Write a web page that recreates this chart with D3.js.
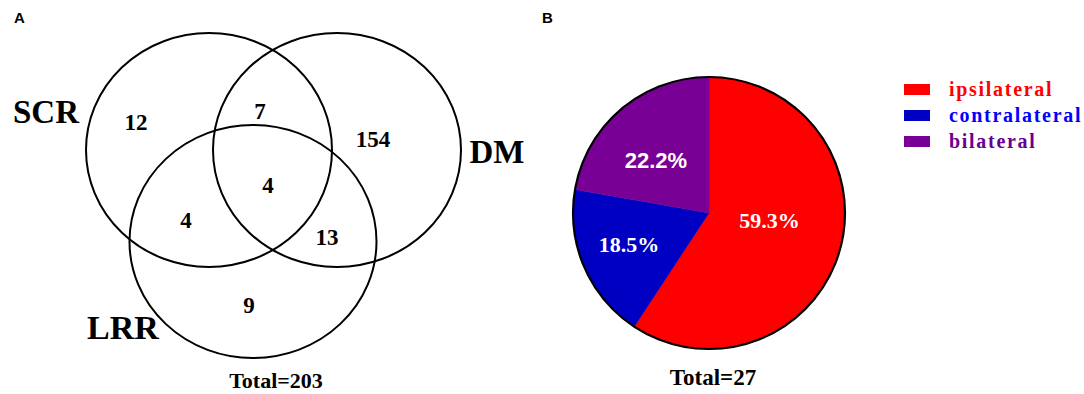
<!DOCTYPE html>
<html>
<head>
<meta charset="utf-8">
<script src="https://cdn.jsdelivr.net/npm/d3@7"></script>
<style>
  html, body { margin: 0; padding: 0; background: #fff; }
  svg { display: block; }
</style>
</head>
<body>
<svg id="chart" width="1084" height="394"></svg>
<script>
// ---------- DATA ----------
const vennSets = ["SCR", "DM", "LRR"];
const vennRegionKeys = ["SCR", "SCR&DM", "DM", "SCR&DM&LRR", "SCR&LRR", "DM&LRR", "LRR"];
const vennRegionCounts = [12, 7, 154, 4, 4, 13, 9];
const vennTotal = 203;

const pieCategories = ["ipsilateral", "contralateral", "bilateral"];
const pieCounts = [16, 5, 6];
const pieTotal = 27;
const pieColors = ["#ff0000", "#0000c2", "#780094"];
const legendTextColors = ["#ff0000", "#0000ff", "#6a008f"];

// ---------- LAYOUT ----------
const svg = d3.select("#chart");
const serif = "'Liberation Serif', 'Times New Roman', serif";
const sans = "'Liberation Sans', Arial, sans-serif";

// panel letters
svg.append("text").attr("x", 14).attr("y", 23).text("A")
  .attr("font-family", sans).attr("font-weight", "bold").attr("font-size", 15);
svg.append("text").attr("x", 542).attr("y", 23).text("B")
  .attr("font-family", sans).attr("font-weight", "bold").attr("font-size", 15);

// ----- Venn (panel A) -----
const vennGeom = {
  SCR: { cx: 209, cy: 150, rx: 123, ry: 117, lx: 46, ly: 123 },
  DM:  { cx: 337, cy: 150, rx: 124, ry: 117, lx: 497, ly: 163 },
  LRR: { cx: 253, cy: 241.5, rx: 123.5, ry: 116.5, lx: 123, ly: 339 }
};
const regionPos = {
  "SCR": [136, 130], "SCR&DM": [260, 119], "DM": [373, 147],
  "SCR&DM&LRR": [268, 193], "SCR&LRR": [186, 228], "DM&LRR": [327, 245], "LRR": [249, 313]
};

const gA = svg.append("g");
gA.selectAll("ellipse.set").data(vennSets).join("ellipse")
  .attr("class", "set")
  .attr("cx", d => vennGeom[d].cx).attr("cy", d => vennGeom[d].cy)
  .attr("rx", d => vennGeom[d].rx).attr("ry", d => vennGeom[d].ry)
  .attr("fill", "none").attr("stroke", "#000").attr("stroke-width", 2);

gA.selectAll("text.setlabel").data(vennSets).join("text")
  .attr("class", "setlabel")
  .attr("x", d => vennGeom[d].lx).attr("y", d => vennGeom[d].ly)
  .attr("text-anchor", "middle")
  .attr("font-family", serif).attr("font-weight", "bold")
  .attr("font-size", d => d === "LRR" ? 34 : 33)
  .text(d => d);

gA.selectAll("text.count").data(vennRegionKeys).join("text")
  .attr("class", "count")
  .attr("x", d => regionPos[d][0]).attr("y", d => regionPos[d][1])
  .attr("text-anchor", "middle")
  .attr("font-family", serif).attr("font-weight", "bold").attr("font-size", 23)
  .text((d, i) => vennRegionCounts[i]);

gA.append("text").attr("x", 276).attr("y", 388).attr("text-anchor", "middle")
  .attr("font-family", serif).attr("font-weight", "bold").attr("font-size", 22)
  .text("Total=" + vennTotal);

// ----- Pie (panel B) -----
const R = 136;
const cx = 709, cy = 213;
const pie = d3.pie().sort(null).value(d => d);
const arcs = pie(pieCounts);
const arc = d3.arc().innerRadius(0).outerRadius(R);
const gB = svg.append("g").attr("transform", `translate(${cx},${cy})`);

gB.selectAll("path.slice").data(arcs).join("path")
  .attr("class", "slice")
  .attr("d", arc)
  .attr("fill", (d, i) => pieColors[i])
  .attr("stroke", (d, i) => pieColors[i]).attr("stroke-width", 0.5);

gB.append("circle").attr("r", R).attr("fill", "none")
  .attr("stroke", "#000").attr("stroke-width", 2.2);

// label placement: radius and angle shift per slice
const labelR = [61, 86, 75];
const labelShift = [-10, 2, -5]; // degrees
const labelFonts = [serif, serif, sans];
gB.selectAll("text.pct").data(arcs).join("text")
  .attr("class", "pct")
  .each(function(d, i) {
    const a = (d.startAngle + d.endAngle) / 2 + labelShift[i] * Math.PI / 180;
    d3.select(this)
      .attr("x", Math.sin(a) * labelR[i])
      .attr("y", -Math.cos(a) * labelR[i] + 8);
  })
  .attr("text-anchor", "middle")
  .attr("fill", "#fff")
  .attr("font-family", (d, i) => labelFonts[i])
  .attr("font-weight", "bold").attr("font-size", 22)
  .text(d => (d.value / pieTotal * 100).toFixed(1) + "%");

svg.append("text").attr("x", 713).attr("y", 385).attr("text-anchor", "middle")
  .attr("font-family", serif).attr("font-weight", "bold").attr("font-size", 23)
  .text("Total=" + pieTotal);

// legend
const legY = d3.scalePoint().domain(pieCategories).range([84, 136]);
const gL = svg.append("g");
gL.selectAll("rect").data(pieCategories).join("rect")
  .attr("x", 904).attr("y", d => legY(d))
  .attr("width", 26).attr("height", 11)
  .attr("fill", (d, i) => pieColors[i]);
gL.selectAll("text").data(pieCategories).join("text")
  .attr("x", 949).attr("y", d => legY(d) + 12)
  .attr("font-family", serif).attr("font-weight", "bold").attr("font-size", 20)
  .attr("letter-spacing", 1.7)
  .attr("fill", (d, i) => legendTextColors[i])
  .text(d => d);
</script>
</body>
</html>
